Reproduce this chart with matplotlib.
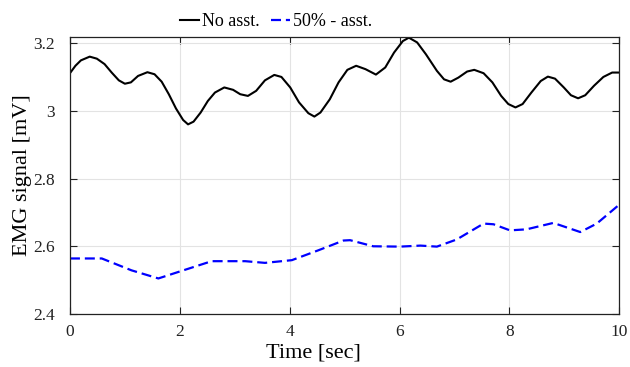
import numpy as np
import matplotlib
matplotlib.use("Agg")
import matplotlib.pyplot as plt
from matplotlib.ticker import FuncFormatter

# valeurs
t_no = [0.00, 0.10, 0.20, 0.36, 0.49, 0.63, 0.76, 0.89, 1.00, 1.11, 1.24, 1.41,
        1.54, 1.67, 1.80, 1.93, 2.06, 2.15, 2.25, 2.38, 2.51, 2.64, 2.81, 2.97,
        3.10, 3.24, 3.39, 3.55, 3.72, 3.85, 4.01, 4.17, 4.34, 4.45, 4.56, 4.73,
        4.89, 5.05, 5.21, 5.38, 5.57, 5.74, 5.90, 6.06, 6.17, 6.32, 6.48, 6.68,
        6.81, 6.93, 7.07, 7.23, 7.36, 7.53, 7.69, 7.85, 7.98, 8.11, 8.24, 8.40,
        8.57, 8.70, 8.83, 8.99, 9.12, 9.25, 9.38, 9.54, 9.71, 9.87, 10.0]
emg_no = [3.111, 3.133, 3.149, 3.160, 3.154, 3.138, 3.113, 3.090, 3.080, 3.084,
          3.103, 3.114, 3.108, 3.086, 3.049, 3.007, 2.973, 2.960, 2.968, 2.995,
          3.029, 3.054, 3.069, 3.062, 3.049, 3.044, 3.059, 3.090, 3.106, 3.100,
          3.069, 3.025, 2.993, 2.983, 2.995, 3.034, 3.084, 3.121, 3.133, 3.123,
          3.107, 3.128, 3.172, 3.206, 3.216, 3.202, 3.167, 3.118, 3.093, 3.086,
          3.098, 3.116, 3.121, 3.111, 3.084, 3.044, 3.020, 3.010, 3.020, 3.054,
          3.088, 3.101, 3.095, 3.069, 3.046, 3.037, 3.046, 3.074, 3.100, 3.113,
          3.113]

t_50 = [0.00, 0.58, 1.12, 1.61, 1.97, 2.58, 3.19, 3.55, 4.04, 4.52, 4.98, 5.10,
        5.52, 6.01, 6.38, 6.68, 7.04, 7.53, 7.71, 8.01, 8.31, 8.80, 9.29, 9.59,
        10.0]
emg_50 = [2.564, 2.564, 2.529, 2.505, 2.524, 2.556, 2.556, 2.551, 2.559, 2.588,
          2.617, 2.618, 2.600, 2.599, 2.602, 2.599, 2.620, 2.667, 2.665, 2.647,
          2.650, 2.669, 2.642, 2.667, 2.723]

xticks = [0, 2, 4, 6, 8, 10]
yticks = [2.4, 2.6, 2.8, 3.0, 3.2]

plt.rcParams['font.family'] = ['Liberation Serif', 'DejaVu Serif']

fig = plt.figure(figsize=(6.3, 3.67), dpi=100)
ax = fig.add_axes([0.111, 0.1444, 0.872, 0.7548])

ax.plot(t_no, emg_no, color='black', lw=1.5, label='No asst.',
        solid_joinstyle='round')
ax.plot(t_50, emg_50, color='blue', lw=1.6, ls=(0, (4.5, 2.2)), label='50% - asst.')

ax.set_xlim(0, 10)
ax.set_ylim(2.4, 3.218)
ax.set_xticks(xticks)
ax.set_yticks(yticks)
ax.yaxis.set_major_formatter(FuncFormatter(lambda v, p: '%g' % round(v, 2)))
ax.tick_params(direction='in', top=True, right=True, labelsize=12.5, length=5,
               width=0.8, colors='#222222')
ax.tick_params(axis='x', pad=7)
ax.tick_params(axis='y', pad=11)
ax.grid(True, color='#e3e3e3', lw=0.8)
for s in ax.spines.values():
    s.set_color('#222222')
    s.set_linewidth(0.9)

ax.set_xlabel('Time [sec]', fontsize=16, va='center')
ax.xaxis.set_label_coords(0.444, -0.14)
ax.set_ylabel('EMG signal [mV]', fontsize=16, va='center')
ax.yaxis.set_label_coords(-0.087, 0.5)

ax.legend(loc='center', bbox_to_anchor=(0.375, 1.055), ncol=2, frameon=False,
          fontsize=13, handlelength=1.1, handletextpad=0.15, columnspacing=0.6,
          borderaxespad=0, borderpad=0.1)

fig.savefig('out.png', dpi=100)
